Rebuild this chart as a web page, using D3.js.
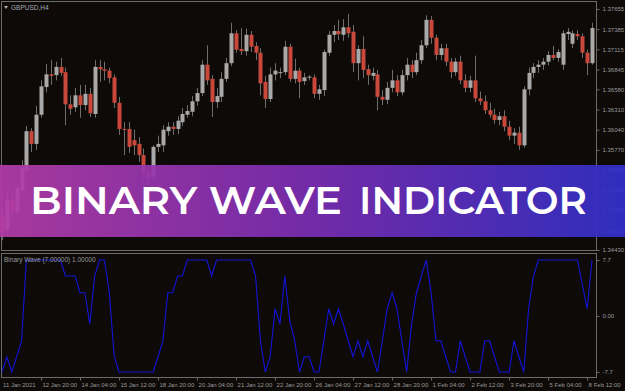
<!DOCTYPE html>
<html>
<head>
<meta charset="utf-8">
<script src="https://cdn.jsdelivr.net/npm/d3@7"></script>
<style>
  body { margin: 0; background: #0d0a08; }
  svg { display: block; }
</style>
</head>
<body>
<div id="chart"></div>
<script>
// GBPUSD H4 candles, one entry per bar
const opens = [1.3488,1.3470,1.3510,1.3494,1.3523,1.3550,1.3602,1.3585,1.3624,1.3661,
  1.3678,1.3677,1.3688,1.3681,1.3638,1.3634,1.3650,1.3637,1.3652,1.3625,
  1.3688,1.3685,1.3683,1.3674,1.3640,1.3605,1.3605,1.3590,1.3585,1.3570,
  1.3547,1.3541,1.3581,1.3583,1.3602,1.3608,1.3605,1.3614,1.3624,1.3628,
  1.3642,1.3653,1.3691,1.3672,1.3641,1.3648,1.3672,1.3693,1.3733,1.3712,
  1.3709,1.3731,1.3716,1.3707,1.3668,1.3645,1.3678,1.3680,1.3681,1.3715,
  1.3672,1.3683,1.3669,1.3674,1.3674,1.3652,1.3657,1.3707,1.3731,1.3736,
  1.3731,1.3741,1.3735,1.3693,1.3712,1.3685,1.3676,1.3678,1.3648,1.3644,
  1.3660,1.3670,1.3654,1.3677,1.3691,1.3681,1.3697,1.3717,1.3751,1.3727,
  1.3704,1.3713,1.3695,1.3681,1.3695,1.3670,1.3660,1.3670,1.3646,1.3642,
  1.3630,1.3624,1.3617,1.3622,1.3608,1.3596,1.3600,1.3583,1.3658,1.3680,
  1.3688,1.3691,1.3695,1.3704,1.3700,1.3691,1.3732,1.3719,1.3732,1.3729,
  1.3707,1.3693];
const highs = [1.3497,1.3518,1.3515,1.3534,1.3563,1.3609,1.3606,1.3636,1.3670,1.3692,
  1.3697,1.3695,1.3700,1.3687,1.3650,1.3660,1.3664,1.3664,1.3660,1.3697,
  1.3697,1.3695,1.3687,1.3678,1.3648,1.3614,1.3614,1.3604,1.3594,1.3579,
  1.3557,1.3583,1.3596,1.3610,1.3614,1.3614,1.3622,1.3633,1.3637,1.3649,
  1.3660,1.3697,1.3717,1.3677,1.3660,1.3681,1.3700,1.3747,1.3737,1.3740,
  1.3739,1.3736,1.3721,1.3713,1.3676,1.3687,1.3693,1.3687,1.3723,1.3719,
  1.3699,1.3687,1.3680,1.3677,1.3678,1.3664,1.3711,1.3736,1.3744,1.3751,
  1.3752,1.3759,1.3744,1.3717,1.3729,1.3691,1.3687,1.3684,1.3657,1.3668,
  1.3684,1.3677,1.3684,1.3700,1.3697,1.3707,1.3724,1.3757,1.3756,1.3731,
  1.3719,1.3719,1.3700,1.3700,1.3703,1.3678,1.3676,1.3703,1.3655,1.3650,
  1.3640,1.3632,1.3628,1.3630,1.3616,1.3606,1.3608,1.3662,1.3687,1.3693,
  1.3697,1.3700,1.3709,1.3716,1.3712,1.3737,1.3740,1.3737,1.3737,1.3733,
  1.3711,1.3747];
const lows = [1.3456,1.3464,1.3486,1.3490,1.3517,1.3545,1.3574,1.3577,1.3620,1.3654,
  1.3664,1.3670,1.3676,1.3610,1.3624,1.3628,1.3620,1.3630,1.3621,1.3620,
  1.3668,1.3670,1.3666,1.3633,1.3597,1.3570,1.3573,1.3570,1.3561,1.3537,
  1.3529,1.3537,1.3574,1.3574,1.3596,1.3597,1.3598,1.3609,1.3620,1.3622,
  1.3636,1.3649,1.3664,1.3621,1.3633,1.3641,1.3668,1.3689,1.3707,1.3704,
  1.3703,1.3708,1.3697,1.3650,1.3633,1.3641,1.3670,1.3673,1.3677,1.3668,
  1.3666,1.3646,1.3664,1.3670,1.3646,1.3644,1.3649,1.3703,1.3721,1.3724,
  1.3723,1.3727,1.3681,1.3670,1.3673,1.3664,1.3670,1.3630,1.3637,1.3638,
  1.3654,1.3649,1.3650,1.3670,1.3673,1.3677,1.3692,1.3713,1.3719,1.3697,
  1.3697,1.3689,1.3673,1.3676,1.3665,1.3654,1.3654,1.3641,1.3637,1.3625,
  1.3620,1.3612,1.3610,1.3602,1.3590,1.3585,1.3577,1.3580,1.3650,1.3673,
  1.3680,1.3684,1.3690,1.3697,1.3695,1.3684,1.3724,1.3713,1.3724,1.3700,
  1.3677,1.3691];
const closes = [1.3467,1.3510,1.3494,1.3526,1.3553,1.3602,1.3585,1.3624,1.3662,1.3678,
  1.3676,1.3688,1.3680,1.3638,1.3632,1.3650,1.3637,1.3652,1.3626,1.3688,
  1.3685,1.3683,1.3673,1.3640,1.3605,1.3604,1.3581,1.3583,1.3570,1.3547,
  1.3539,1.3581,1.3585,1.3604,1.3608,1.3605,1.3616,1.3625,1.3629,1.3642,
  1.3653,1.3691,1.3670,1.3641,1.3649,1.3672,1.3693,1.3733,1.3711,1.3709,
  1.3731,1.3715,1.3707,1.3666,1.3645,1.3678,1.3683,1.3681,1.3715,1.3672,
  1.3683,1.3668,1.3674,1.3675,1.3652,1.3658,1.3708,1.3731,1.3736,1.3732,
  1.3741,1.3733,1.3693,1.3712,1.3684,1.3677,1.3680,1.3648,1.3644,1.3660,
  1.3670,1.3654,1.3677,1.3691,1.3681,1.3697,1.3717,1.3751,1.3727,1.3704,
  1.3713,1.3695,1.3681,1.3695,1.3670,1.3660,1.3670,1.3646,1.3642,1.3630,
  1.3624,1.3617,1.3622,1.3608,1.3596,1.3600,1.3583,1.3658,1.3680,1.3688,
  1.3691,1.3695,1.3704,1.3700,1.3708,1.3733,1.3735,1.3733,1.3729,1.3707,
  1.3693,1.3740];

// Binary Wave (7) values, same bars
const wave = [-7.7,-5.6,-7.7,-5.6,-3.5,7.7,7.7,7.7,7.7,7.7,
  7.7,7.7,7.7,5.5,5.5,5.5,3.2,3.2,-1.1,5.5,
  7.7,7.7,3.3,-5.5,-7.7,-7.7,-7.7,-7.7,-7.7,-7.7,
  -7.7,-7.7,-5.6,-3.4,3.2,3.2,5.5,5.5,7.7,7.7,
  7.7,7.7,7.7,5.5,7.7,7.7,7.7,7.7,7.7,7.7,
  7.7,7.7,5.5,-3.4,-7.7,-5.6,1.0,-1.1,5.5,-0.6,
  -3.3,-7.7,-5.6,-5.6,-7.7,-7.7,-3.4,1.0,-1.1,1.0,
  -1.1,-3.4,-5.6,-3.4,-5.6,-3.4,-5.6,-7.7,-3.4,1.0,
  3.2,1.0,-3.4,-7.7,-1.1,3.2,5.5,7.7,3.2,-3.4,
  -3.4,-5.6,-7.7,-7.7,-3.4,-5.6,-7.7,-7.7,-7.7,-3.4,
  -3.4,-5.6,-7.7,-7.7,-7.7,-3.4,-5.6,-7.7,1.0,5.5,
  7.7,7.7,7.7,7.7,7.7,7.7,7.7,7.7,7.7,4.4,
  1.0,7.7];

const priceTicks = [1.37655,1.37385,1.37115,1.36845,1.36580,1.36310,1.36040,
  1.35770,1.35505,1.35235,1.34965,1.34695,1.34430];
const waveTicks = [7.7, 0, -7.7];
const waveTickLabels = ["7.7", "0.00", "-7.7"];
const timeTickBars = [8,16,24,32,40,48,56,64,72,80,88,96,104,112,120];
const timeTickLabels = ["12 Jan 20:00","14 Jan 04:00","15 Jan 12:00","18 Jan 20:00",
  "20 Jan 04:00","21 Jan 12:00","22 Jan 20:00","26 Jan 04:00","27 Jan 12:00",
  "28 Jan 20:00","1 Feb 04:00","2 Feb 12:00","3 Feb 20:00","5 Feb 04:00","8 Feb 12:00"];

const W = 625, H = 391;
const frameR = 596.5;
const txtCol = "#9a9a9a", frameCol = "#6c6c6c";
const fontF = "'Liberation Sans', Arial, sans-serif";

const svg = d3.select("#chart").append("svg")
  .attr("width", W).attr("height", H)
  .style("background", "#0d0a08");

const x = d3.scaleLinear().domain([0, opens.length - 1]).range([2, 592]);
const y = d3.scaleLinear().domain([1.34430, 1.37655]).range([250, 9]);
const yw = d3.scaleLinear().domain([-7.7, 7.7]).range([372, 260]);

// panel frames
svg.append("rect").attr("x", 1.5).attr("y", 1.5).attr("width", frameR - 1.5).attr("height", 249)
  .attr("fill", "none").attr("stroke", frameCol);
svg.append("rect").attr("x", 1.5).attr("y", 253.5).attr("width", frameR - 1.5).attr("height", 124)
  .attr("fill", "none").attr("stroke", frameCol);

// candles
const bars = d3.range(opens.length);
const cx = i => Math.round(x(i)) + 0.5;
const candles = svg.append("g");
candles.selectAll("line").data(bars).join("line")
  .attr("x1", cx).attr("x2", cx)
  .attr("y1", i => y(highs[i])).attr("y2", i => y(lows[i]))
  .attr("stroke", "#6e6e6e").attr("stroke-width", 1);
candles.selectAll("rect").data(bars).join("rect")
  .attr("x", i => cx(i) - 2)
  .attr("width", 4)
  .attr("y", i => y(Math.max(opens[i], closes[i])))
  .attr("height", i => Math.max(1, Math.abs(y(opens[i]) - y(closes[i]))))
  .attr("fill", i => closes[i] >= opens[i] ? "#a9a9a9" : "#c9483a");

// price axis
const pAxis = svg.append("g").attr("transform", `translate(${frameR},0)`)
  .call(d3.axisRight(y).tickValues(priceTicks).tickSize(3).tickFormat(d3.format(".5f")));
pAxis.select(".domain").remove();
pAxis.selectAll("line").attr("stroke", frameCol);
pAxis.selectAll("text").attr("fill", txtCol).attr("font-size", 6).attr("font-family", fontF).attr("x", 6);

// wave axis
const wAxis = svg.append("g").attr("transform", `translate(${frameR},0)`)
  .call(d3.axisRight(yw).tickValues(waveTicks).tickSize(3).tickFormat((d, k) => waveTickLabels[k]));
wAxis.select(".domain").remove();
wAxis.selectAll("line").attr("stroke", frameCol);
wAxis.selectAll("text").attr("fill", txtCol).attr("font-size", 6).attr("font-family", fontF).attr("x", 6);

// time axis
const tAxis = svg.append("g").attr("transform", "translate(0,377.5)")
  .call(d3.axisBottom(x).tickValues(timeTickBars).tickSize(3).tickFormat((d, k) => timeTickLabels[k]));
tAxis.select(".domain").remove();
tAxis.selectAll("line").attr("stroke", frameCol);
tAxis.selectAll("text").attr("fill", txtCol).attr("font-size", 6).attr("font-family", fontF)
  .attr("text-anchor", "start").attr("dx", 1).attr("y", 5);
svg.append("text").attr("x", 3).attr("y", 387).text("11 Jan 2021")
  .attr("fill", txtCol).attr("font-size", 6).attr("font-family", fontF);

// binary wave line
svg.append("path").datum(bars)
  .attr("d", d3.line().x(i => x(i)).y(i => yw(wave[i])))
  .attr("fill", "none").attr("stroke", "#1414d8").attr("stroke-width", 1.1);

// labels
svg.append("path").attr("d", "M4,6 L8,6 L6,9 Z").attr("fill", "#b0b0b8");
svg.append("text").attr("x", 11).attr("y", 9.5).text("GBPUSD,H4")
  .attr("fill", "#a4a8b4").attr("font-size", 6.5).attr("font-family", fontF);
svg.append("text").attr("x", 4).attr("y", 261.5).text("Binary Wave (7.00000) 1.00000")
  .attr("fill", txtCol).attr("font-size", 6.5).attr("font-family", fontF);

// banner
const grad = svg.append("defs").append("linearGradient").attr("id", "bannerGrad");
grad.append("stop").attr("offset", "0%").attr("stop-color", "#b23ca8");
grad.append("stop").attr("offset", "50%").attr("stop-color", "#7a2db3");
grad.append("stop").attr("offset", "100%").attr("stop-color", "#3230ca");
svg.append("rect").attr("x", 0).attr("y", 165).attr("width", W).attr("height", 72)
  .attr("fill", "url(#bannerGrad)").attr("opacity", 0.93);

const bannerWords = [["BINARY WAVE", 30, 312], ["INDICATOR", 359, 228]];
svg.selectAll(".banner").data(bannerWords).join("text")
  .attr("x", d => d[1]).attr("y", 214)
  .attr("textLength", d => d[2]).attr("lengthAdjust", "spacingAndGlyphs")
  .text(d => d[0])
  .attr("fill", "#ffffff").attr("font-size", 38).attr("font-weight", 600)
  .attr("font-family", "Montserrat, Lato, 'Open Sans', sans-serif");
</script>
</body>
</html>
